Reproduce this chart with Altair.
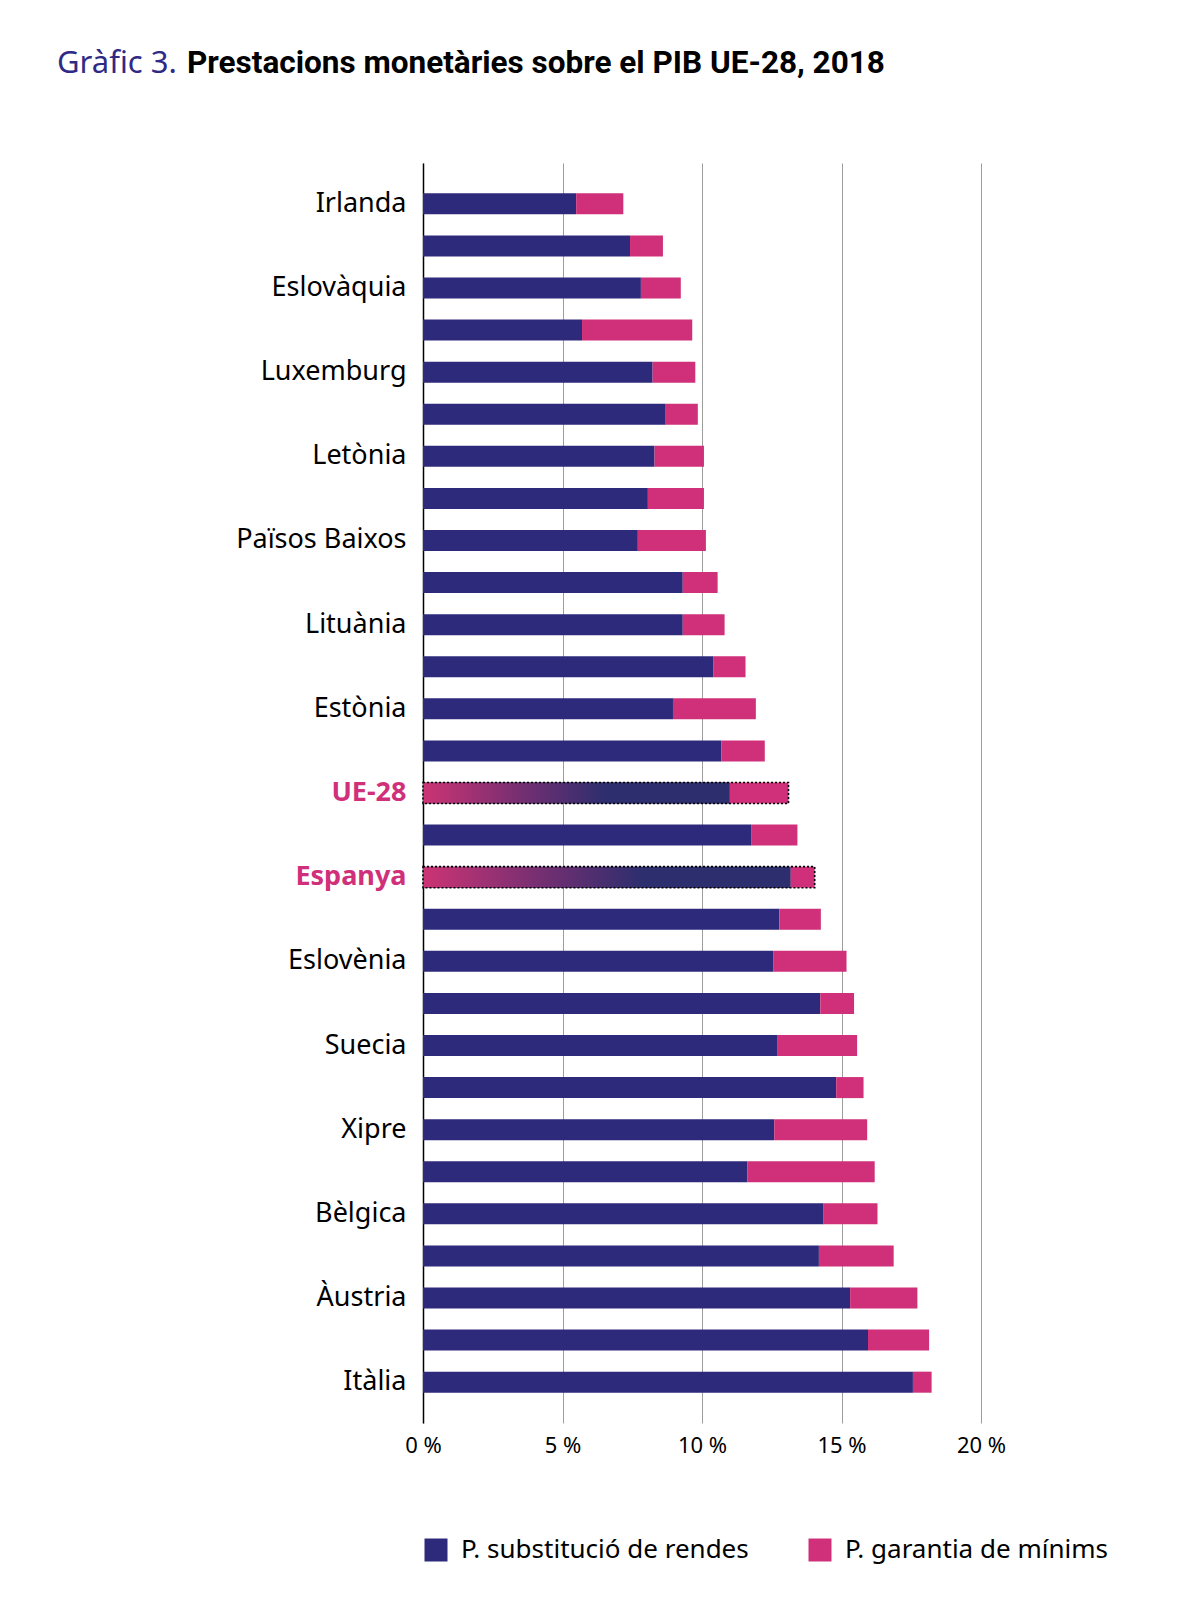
import json
import altair as alt
import pandas as pd

# ---- data ----
labels = ["Irlanda", "", "Eslovàquia", "", "Luxemburg", "", "Letònia", "",
          "Països Baixos", "", "Lituània", "", "Estònia", "", "UE-28", "",
          "Espanya", "", "Eslovènia", "", "Suecia", "", "Xipre", "",
          "Bèlgica", "", "Àustria", "", "Itàlia"]
substitucio = [5.49, 7.42, 7.81, 5.70, 8.23, 8.70, 8.30, 8.06, 7.70, 9.31,
               9.31, 10.40, 8.96, 10.70, 10.99, 11.76, 13.17, 12.77, 12.55, 14.24,
               12.69, 14.81, 12.59, 11.62, 14.36, 14.19, 15.31, 15.95, 17.56]
garantia = [1.69, 1.18, 1.43, 3.95, 1.53, 1.15, 1.77, 2.01, 2.44, 1.25,
            1.50, 1.16, 2.97, 1.55, 2.11, 1.66, 0.87, 1.49, 2.63, 1.21,
            2.87, 0.98, 3.33, 4.57, 1.93, 2.68, 2.41, 2.19, 0.67]
highlight = ["UE-28", "Espanya"]
series = ["P. substitució de rendes", "P. garantia de mínims"]
x_ticks = [0, 5, 10, 15, 20]
title_prefix = "Gràfic 3."
title_main = "Prestacions monetàries sobre el PIB UE-28, 2018"

NAVY = "#2e2a7b"
PINK = "#cf3079"
FONT = "Noto Sans"

rows = []
for i, (lab, s, g) in enumerate(zip(labels, substitucio, garantia)):
    rows.append({"pos": i, "serie": series[0], "x0": 0.0, "x1": s, "hl": lab in highlight})
    rows.append({"pos": i, "serie": series[1], "x0": s, "x1": s + g, "hl": lab in highlight})
long_df = pd.DataFrame(rows)
outline_df = pd.DataFrame([
    {"pos": i, "x0": 0.0, "x1": substitucio[i] + garantia[i]}
    for i, lab in enumerate(labels) if lab in highlight
])

hl_idx = [i for i, lab in enumerate(labels) if lab in highlight]
hl_test = " || ".join(f"datum.value == {i}" for i in hl_idx)
label_expr = json.dumps(labels, ensure_ascii=False) + "[datum.value]"

x_enc = alt.X("x0:Q", scale=alt.Scale(domain=[0, 20], nice=False, zero=True),
              axis=alt.Axis(values=x_ticks, labelExpr="datum.value + ' %'", title=None,
                            grid=True, gridColor="#9d9d9d", gridWidth=1,
                            domain=False, ticks=False, tickSize=0,
                            labelFlush=False, labelAlign="center",
                            labelFont=FONT, labelFontSize=22, labelColor="black",
                            labelPadding=12))
y_enc = alt.Y("pos:O", scale=alt.Scale(domain=list(range(len(labels))),
                                        paddingInner=0.5, paddingOuter=0.72),
              axis=alt.Axis(title=None, labelExpr=label_expr, ticks=False, tickSize=0,
                            domain=True, domainColor="black", domainWidth=1.5,
                            labelFont=FONT, labelFontSize=27, labelPadding=17,
                            labelColor={"condition": {"test": hl_test, "value": PINK}, "value": "black"},
                            labelFontWeight={"condition": {"test": hl_test, "value": "bold"}, "value": "normal"},
                            grid=False))

bars = alt.Chart(long_df).mark_bar().encode(
    x=x_enc,
    x2="x1:Q",
    y=y_enc,
    color=alt.Color("serie:N", scale=alt.Scale(domain=series, range=[NAVY, PINK]),
                    legend=alt.Legend(title=None, orient="none", direction="horizontal",
                                      legendX=0, legendY=1374, symbolType="square",
                                      symbolSize=529, symbolStrokeWidth=0,
                                      labelFont=FONT, labelFontSize=26, labelColor="black",
                                      labelOffset=12, columnPadding=58, padding=0,
                                      labelLimit=400)),
)

grad = alt.LinearGradient(
    gradient="linear",
    stops=[alt.GradientStop(offset=0, color="#cc3474"),
           alt.GradientStop(offset=0.3, color="#7a2f72"),
           alt.GradientStop(offset=0.6, color="#2c2e6e"),
           alt.GradientStop(offset=1, color="#2c2e6e")],
    x1=0, x2=1, y1=0, y2=0,
)

grad_bars = alt.Chart(long_df).mark_bar(fill=grad).encode(
    x="x0:Q", x2="x1:Q", y="pos:O",
).transform_filter(
    (alt.datum.hl == True) & (alt.datum.serie == series[0])
)

outline = alt.Chart(outline_df).mark_bar(
    fill="transparent", stroke="black", strokeDash=[2, 2], strokeWidth=1.6
).encode(x="x0:Q", x2="x1:Q", y="pos:O")

t1 = alt.Chart(pd.DataFrame({"t": [title_prefix]})).mark_text(
    align="left", baseline="middle", font=FONT, fontSize=31, color="#2e2a86"
).encode(text="t:N", x=alt.value(-366), y=alt.value(-99))

t2 = alt.Chart(pd.DataFrame({"t": [title_main]})).mark_text(
    align="left", baseline="middle", font="Roboto", fontSize=31.5, fontWeight="bold", color="black"
).encode(text="t:N", x=alt.value(-236), y=alt.value(-99))

chart = alt.layer(bars, grad_bars, outline, t1, t2).properties(
    width=558, height=1260,
    padding={"left": 415, "top": 155, "right": 190, "bottom": 180},
    autosize=alt.AutoSizeParams(type="none"),
).configure_view(stroke=None)

chart.save("out.html", embed_options={"renderer": "svg", "actions": False})
